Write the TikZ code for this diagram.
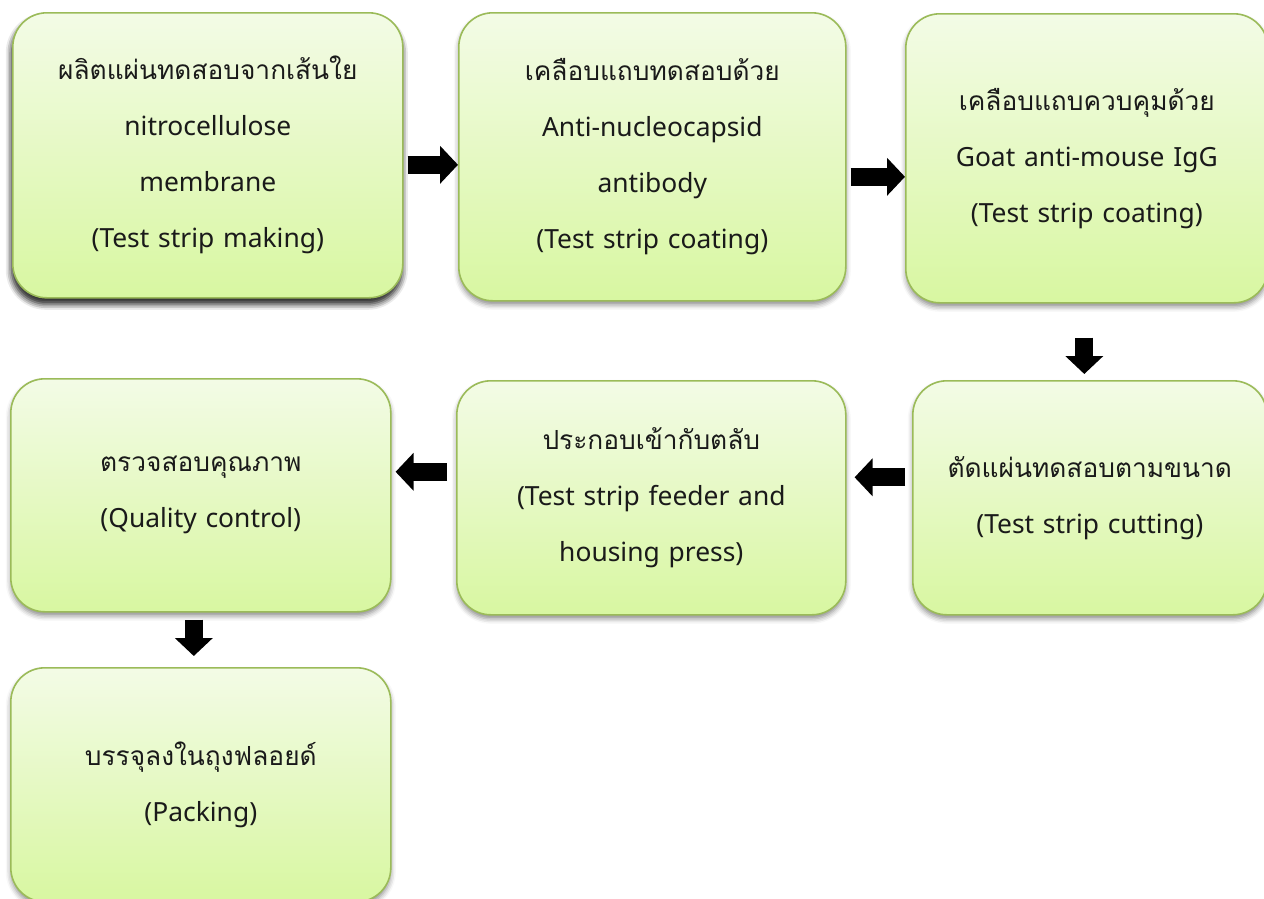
\documentclass[tikz,border=0pt]{standalone}
\usepackage{fontspec}
\setmainfont{Noto Sans}
\newfontfamily\thaifont[Script=Thai]{Loma}
\newcommand{\thline}[1]{{\thaifont\fontsize{26.3}{56}\selectfont #1}}
\usetikzlibrary{arrows.meta,shadows.blur}
\definecolor{boxborder}{HTML}{9BBB59}
\definecolor{boxtop}{HTML}{F3FBE6}
\definecolor{boxbot}{HTML}{D8F7A1}
\definecolor{txt}{HTML}{1A1A1A}
\tikzset{
  x=1pt,y=-1pt,
  procbox/.style={draw=boxborder, line width=1.6pt, rounded corners=34pt,
    top color=boxtop, bottom color=boxbot, inner sep=0pt,
    text width=#1, align=center, text=txt,
    font=\fontsize{26.4}{56}\selectfont,
    blur shadow={shadow xshift=0pt, shadow yshift=-4pt, shadow blur radius=5pt, shadow opacity=45}},
  procbox/.default=340pt,
  blk/.style={line width=18pt, draw=black, -{Triangle[width=37pt,length=18pt]}}
}
\begin{document}
\begin{tikzpicture}
\useasboundingbox (0,0) rectangle (1264,898);
\begin{scope}
\clip (0,0) rectangle (1264,898);
\node[procbox=370pt, minimum width=390pt, minimum height=285pt, anchor=north west,
  blur shadow={shadow xshift=-1pt, shadow yshift=-6pt, shadow blur radius=6pt, shadow opacity=60}] (b1) at (12,12)
  {\thline{ผลิตแผ่นทดสอบจากเส้นใย}\\nitrocellulose\\membrane\\(Test strip making)};
\node[procbox=370pt, minimum width=387pt, minimum height=288pt, anchor=north west] (b2) at (458,12)
  {\thline{เคลือบแถบทดสอบด้วย}\\Anti-nucleocapsid\\antibody\\(Test strip coating)};
\node[procbox=350pt, minimum width=362pt, minimum height=289pt, anchor=north west] (b3) at (905,13)
  {\thline{เคลือบแถบควบคุมด้วย}\\Goat anti-mouse IgG\\(Test strip coating)};
\node[procbox=345pt, minimum width=354pt, minimum height=234pt, anchor=north west] (b4) at (912,380)
  {\thline{ตัดแผ่นทดสอบตามขนาด}\\(Test strip cutting)};
\node[procbox=370pt, minimum width=389pt, minimum height=234pt, anchor=north west] (b5) at (456,380)
  {\thline{ประกอบเข้ากับตลับ}\\(Test strip feeder and\\housing press)};
\node[procbox=360pt, minimum width=380pt, minimum height=233pt, anchor=north west] (b6) at (10,378)
  {\thline{ตรวจสอบคุณภาพ}\\(Quality control)};
\node[procbox=360pt, minimum width=380pt, minimum height=234pt, anchor=north west] (b7) at (10,667)
  {\thline{บรรจุลงในถุงฟลอยด์}\\(Packing)};
\end{scope}
\draw[blk, shorten <=4pt] ([yshift=-9.5pt]b1.east) -- ([yshift=-9.5pt]b1.east -| b2.west);
\draw[blk, shorten <=4pt] ([yshift=-20pt]b2.east) -- ([yshift=-20pt]b2.east -| b3.west);
\draw[blk, shorten <=34pt, shorten >=6pt] ([xshift=-2.5pt]b3.south) -- ([xshift=-2.5pt]b3.south |- b4.north);
\draw[blk, shorten <=7pt, shorten >=8pt] ([yshift=20.5pt]b4.west) -- ([yshift=20.5pt]b4.west -| b5.east);
\draw[blk, shorten <=9pt, shorten >=4pt] ([yshift=26pt]b5.west) -- ([yshift=26pt]b5.west -| b6.east);
\draw[blk, shorten <=7pt, shorten >=11pt] ([xshift=-7pt]b6.south) -- ([xshift=-7pt]b6.south |- b7.north);
\end{tikzpicture}
\end{document}
